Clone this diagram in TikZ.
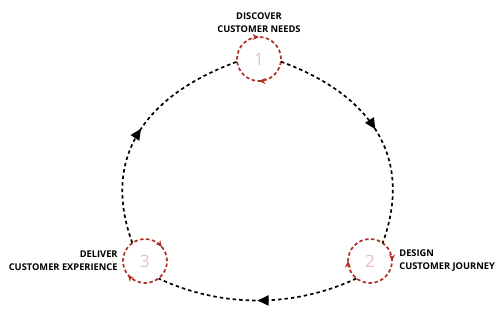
\documentclass[tikz,border=0pt]{standalone}
\usepackage{fontspec}
\setmainfont{Open Sans}
\usetikzlibrary{positioning,arrows.meta,decorations.markings}
\definecolor{rust}{RGB}{172,48,36}
\definecolor{blush}{RGB}{232,192,186}

\begin{document}
\begin{tikzpicture}[
	x=1pt,
	y=1pt,
	line cap=butt
]
\tikzset{
    stepring/.style = {circle, minimum size=44pt, inner sep=0pt, text=blush,
        font=\fontsize{17}{17}\selectfont},
    ringline/.style 2 args = {draw=rust, line width=1.7pt, dash pattern=on 3.5pt off 2.5pt,
        postaction=decorate, decoration={markings,
            mark=at position #1 with {\arrowreversed[rust]{Stealth[length=6.5pt,width=6pt]}},
            mark=at position #2 with {\arrowreversed[rust]{Stealth[length=6.5pt,width=6pt]}}}},
    cycleline/.style = {line width=1.7pt, dash pattern=on 3.5pt off 3pt,
        postaction=decorate, decoration={markings,
            mark=at position #1 with {\arrow{Triangle[length=11pt,width=10pt]}}}},
    steplabel/.style = {font=\bfseries\fontsize{9.3}{13}\selectfont, inner sep=0pt},
}
    \useasboundingbox (0,0) rectangle (498,-330);

    \node (n1) [stepring] at (259,-59) {1};
    \node (n2) [stepring] at (370,-261) {2};
    \node (n3) [stepring] at (145,-261) {3};

    % small dashed rings with arrows
    \draw[ringline={0.25}{0.75}] (n1.center) circle[radius=22];
    \draw[ringline={0.0}{0.5}] (n2.center) circle[radius=22];
    \draw[ringline={0.11}{0.61}] (n3.center) circle[radius=22];

    \node[steplabel, align=center, above=4pt of n1] {DISCOVER\\CUSTOMER NEEDS};
    \node[steplabel, align=left, right=7pt of n2] {DESIGN\\CUSTOMER JOURNEY};
    \node[steplabel, align=right, left=5pt of n3] {DELIVER\\CUSTOMER EXPERIENCE};

    % the big cycle
    \draw[cycleline=0.5] (n1.-7) to[out=-20, in=70, looseness=1.15] (n2.55);
    \draw[cycleline=0.5] (n2.232) to[out=205, in=-25, looseness=0.9] (n3.308);
    \draw[cycleline=0.5] (n3.125) to[out=110, in=200, looseness=1.15] (n1.187);
\end{tikzpicture}
\end{document}
